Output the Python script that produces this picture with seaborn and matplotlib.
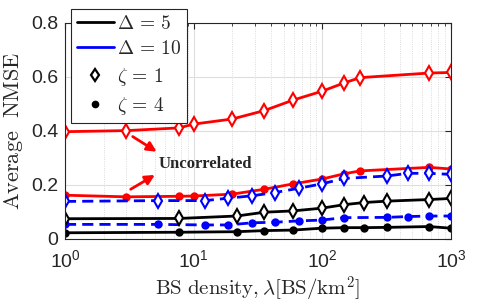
import numpy as np
import pandas as pd
import matplotlib
matplotlib.use("Agg")
import matplotlib.pyplot as plt
import seaborn as sns
from matplotlib.lines import Line2D

# ---- data ----
x_red = [1, 3, 7.7, 10, 20, 35.4, 59.4, 100, 147, 197, 680, 1000]
y_red_z1 = [0.397, 0.401, 0.411, 0.425, 0.444, 0.475, 0.514, 0.547, 0.577, 0.597, 0.614, 0.616]
y_red_z4 = [0.162, 0.156, 0.158, 0.159, 0.166, 0.184, 0.204, 0.222, 0.241, 0.252, 0.265, 0.259]

x_blue = [1, 5.25, 12.2, 18.6, 28.6, 42.9, 66.2, 99, 148, 316, 466, 677, 1000]
y_d10_z1 = [0.139, 0.142, 0.142, 0.151, 0.160, 0.172, 0.188, 0.204, 0.224, 0.233, 0.243, 0.243, 0.239]
y_d10_z4 = [0.054, 0.054, 0.052, 0.052, 0.060, 0.062, 0.067, 0.070, 0.079, 0.080, 0.083, 0.085, 0.085]

x_black = [1, 7.7, 21.6, 35.4, 59.4, 99, 148, 212, 316, 677, 1000]
y_d5_z1 = [0.075, 0.076, 0.085, 0.099, 0.104, 0.114, 0.127, 0.135, 0.140, 0.146, 0.150]
y_d5_z4 = [0.023, 0.025, 0.027, 0.031, 0.033, 0.040, 0.042, 0.042, 0.043, 0.046, 0.040]

legend_labels = [r"$\Delta\,=\,5$", r"$\Delta\,=\,10$", r"$\zeta\,=\,1$", r"$\zeta\,=\,4$"]
annot_text = "Uncorrelated"

# ---- style ----
sns.set_style("white")
plt.rcParams["font.family"] = ["Liberation Sans", "DejaVu Sans"]
plt.rcParams["mathtext.fontset"] = "cm"

fig = plt.figure(figsize=(4.98, 3.05), dpi=100)
ax = fig.add_axes([0.1305, 0.2164, 0.775, 0.709])
ax.set_xscale("log")

RED = "#ff0000"
BLUE = "#0000ff"
BLACK = "#000000"

def draw(x, y, color, ls, marker, ms, face):
    df = pd.DataFrame({"x": x, "y": y})
    sns.lineplot(data=df, x="x", y="y", ax=ax, color=color, linestyle=ls,
                 marker=marker, markersize=ms, markeredgecolor=color,
                 markeredgewidth=1.5, linewidth=2.0, markerfacecolor=face,
                 estimator=None, sort=True)

draw(x_red, y_red_z1, RED, "-", "d", 7, "white")
draw(x_red, y_red_z4, RED, "-", "o", 4.5, RED)
draw(x_blue, y_d10_z1, BLUE, (0, (4, 2.2)), "d", 7, "white")
draw(x_blue, y_d10_z4, BLUE, (0, (4, 2.2)), "o", 4.5, BLUE)
draw(x_black, y_d5_z1, BLACK, "-", "d", 7, "white")
draw(x_black, y_d5_z4, BLACK, "-", "o", 4.5, BLACK)

ax.set_xlim(1, 1000)
ax.set_ylim(0, 0.8)
ax.set_yticks([0, 0.2, 0.4, 0.6, 0.8])
ax.set_yticklabels(["0", "0.2", "0.4", "0.6", "0.8"])

ax.grid(True, which="major", color="#dedede", linewidth=0.8, linestyle="-")
ax.grid(True, which="minor", axis="x", color="#d0d0d0", linewidth=0.6, linestyle=":")
ax.set_axisbelow(True)

for s in ax.spines.values():
    s.set_color("#262626")
    s.set_linewidth(0.8)
ax.tick_params(which="both", direction="in", top=True, right=True, colors="#262626",
               labelcolor="#262626")
ax.tick_params(which="major", length=4, labelsize=14, pad=5)
ax.tick_params(which="minor", length=2.5)
ax.tick_params(axis="x", which="major", pad=7)

ax.set_xlabel(r"$\mathrm{BS\ density},\lambda[\mathrm{BS/km}^2]$", fontsize=15, labelpad=3)
ax.set_ylabel(r"$\mathrm{Average\ \ NMSE}$", fontsize=16, labelpad=4)

# annotations
ax.annotate("", xy=(5.16, 0.323), xytext=(3.36, 0.379),
            arrowprops=dict(arrowstyle="-|>", color=RED, lw=2.0, mutation_scale=14,
                            shrinkA=0, shrinkB=0))
ax.annotate("", xy=(5.0, 0.237), xytext=(3.24, 0.184),
            arrowprops=dict(arrowstyle="-|>", color=RED, lw=2.0, mutation_scale=14,
                            shrinkA=0, shrinkB=0))
ax.text(5.38, 0.278, annot_text, fontsize=12, fontweight="bold",
        family=["Liberation Serif"], va="center", ha="left")

handles = [
    Line2D([], [], color=BLACK, lw=2),
    Line2D([], [], color=BLUE, lw=2),
    Line2D([], [], color=BLACK, lw=0, marker="d", markersize=6.5, mfc="white", mec=BLACK, mew=1.6),
    Line2D([], [], color=BLACK, lw=0, marker="o", markersize=4.5, mfc=BLACK, mec=BLACK),
]
leg = fig.legend(handles, legend_labels, loc="upper left",
                 bbox_to_anchor=(71 / 498, 1 - 9 / 305), fontsize=14,
                 frameon=True, fancybox=False, framealpha=1, edgecolor="#262626",
                 handlelength=1.9, handletextpad=0.15, borderpad=0.3, labelspacing=0.38,
                 borderaxespad=0)
leg.get_frame().set_linewidth(0.8)

fig.savefig("out.png", dpi=100)
